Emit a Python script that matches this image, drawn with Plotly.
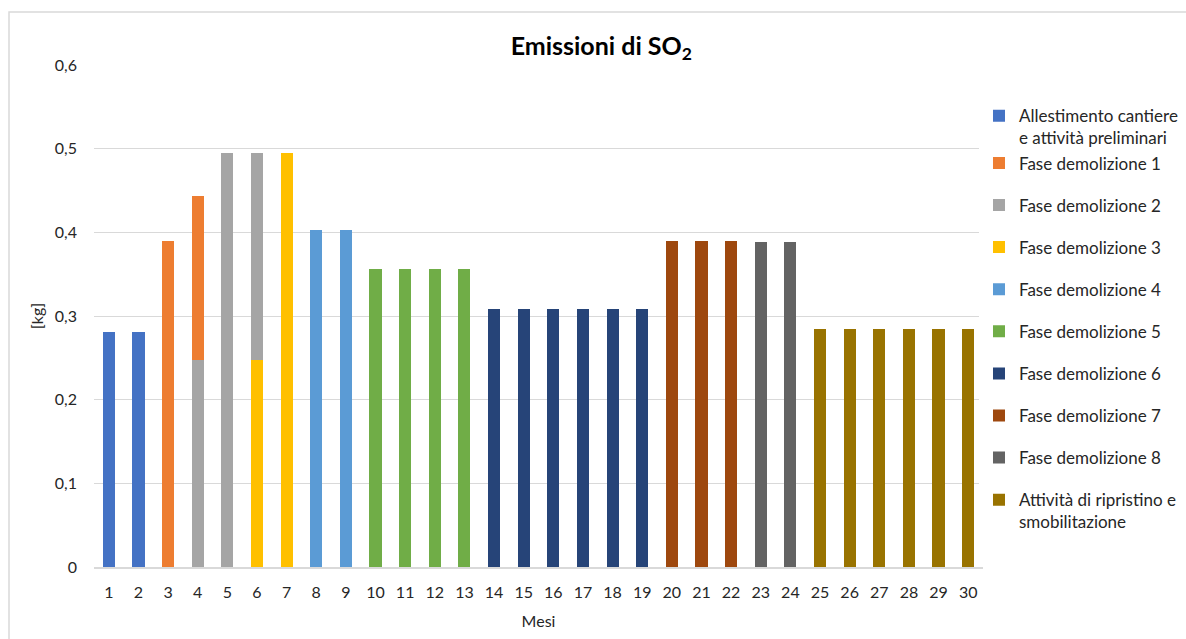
import plotly.graph_objects as go

# Months on the x axis
mesi = [str(m) for m in range(1, 31)]

# SO2 emissions per month [kg], one list per work phase (None = phase not active)
allestimento = [0.281, 0.281] + [None] * 28
fase_1 = [None, None, 0.390, 0.196] + [None] * 26
fase_2 = [None, None, None, 0.247, 0.495, 0.248] + [None] * 24
fase_3 = [None] * 5 + [0.247, 0.495] + [None] * 23
fase_4 = [None] * 7 + [0.403, 0.403] + [None] * 21
fase_5 = [None] * 9 + [0.356] * 4 + [None] * 17
fase_6 = [None] * 13 + [0.308] * 6 + [None] * 11
fase_7 = [None] * 19 + [0.390] * 3 + [None] * 8
fase_8 = [None] * 22 + [0.389] * 2 + [None] * 6
ripristino = [None] * 24 + [0.284] * 6

# (legend name, values, colour, legend rank, legend group);
# list order sets the stacking order
series = [
    ("Allestimento cantiere<br>e attività preliminari", allestimento, "#4472C4", 1, "g1"),
    ("Fase demolizione 3", fase_3, "#FFC000", 4, "g4"),
    ("Fase demolizione 2", fase_2, "#A5A5A5", 3, "g3"),
    ("Fase demolizione 1", fase_1, "#ED7D31", 2, "g1"),
    ("Fase demolizione 4", fase_4, "#5B9BD5", 5, "g5"),
    ("Fase demolizione 5", fase_5, "#70AD47", 6, "g6"),
    ("Fase demolizione 6", fase_6, "#264478", 7, "g7"),
    ("Fase demolizione 7", fase_7, "#9E480E", 8, "g8"),
    ("Fase demolizione 8", fase_8, "#636363", 9, "g9"),
    ("Attività di ripristino e<br>smobilitazione", ripristino, "#997300", 10, "g10"),
]

FONT = "Lato"
TEXT = "#262626"

fig = go.Figure()
for name, vals, color, rank, group in series:
    fig.add_trace(go.Bar(
        x=mesi, y=vals, name=name, legendrank=rank, legendgroup=group,
        marker=dict(color=color, line=dict(width=0)),
        width=0.41,
    ))

fig.update_layout(
    barmode="stack",
    width=1186, height=639,
    margin=dict(l=94, r=203, t=65, b=72, autoexpand=False),
    paper_bgcolor="white", plot_bgcolor="white",
    separators=",.",
    font=dict(family=FONT, size=16, color=TEXT),
    title=dict(
        text="<b>Emissioni di SO<sub>2</sub></b>",
        x=0.507, xanchor="center", y=0.928, yanchor="middle",
        font=dict(family=FONT, size=25, color="#000000"),
    ),
    xaxis=dict(
        title=dict(text="Mesi", font=dict(size=16), standoff=16),
        type="category", showgrid=False, ticks="",
        showline=True, linecolor="#D9D9D9", linewidth=2,
        tickfont=dict(size=16), ticklabelstandoff=10,
    ),
    yaxis=dict(
        title=dict(text="[kg]", font=dict(size=16), standoff=7),
        range=[0, 0.6], dtick=0.1,
        showgrid=True, gridcolor="#D9D9D9", gridwidth=1,
        zeroline=False, showline=False, ticks="",
        tickfont=dict(size=16), ticklabelstandoff=16,
    ),
    legend=dict(
        x=0.9955, xanchor="left", y=0.934, yanchor="top",
        traceorder="grouped", tracegroupgap=17, valign="top",
        font=dict(size=17, color=TEXT),
        itemwidth=30,
    ),
    shapes=[dict(
        type="rect", xref="paper", yref="paper",
        x0=-0.0956, x1=1.25, y0=-0.2, y1=1.1056,
        line=dict(color="#D9D9D9", width=1.5), fillcolor="rgba(0,0,0,0)",
        layer="below",
    )],
)

fig.write_html("out.html")
